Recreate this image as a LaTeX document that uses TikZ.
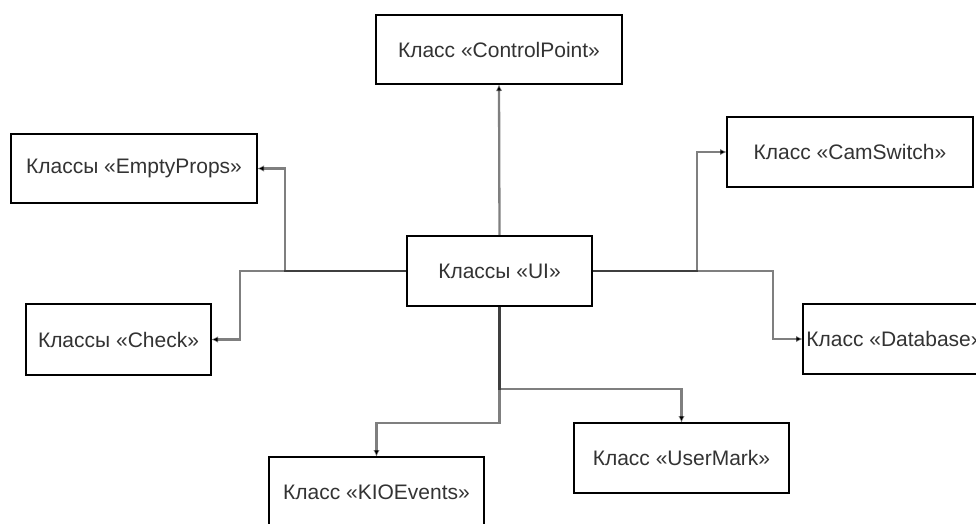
\documentclass[tikz,border=0pt]{standalone}
\usepackage{fontspec}
\setmainfont{Liberation Sans}
\usetikzlibrary{arrows.meta}
\begin{document}
\begin{tikzpicture}[x=1pt,y=-1pt,
  cls/.style={draw=black, line width=1.4pt, fill=white, inner sep=0pt, outer sep=0pt,
    text=black!80, font=\fontsize{21}{25}\selectfont, align=center},
  conn/.style={draw=black, draw opacity=0.5, line width=2.3pt,
    -{Latex[length=7pt,width=6.5pt]}}]
\useasboundingbox (0,0) rectangle (976,523);
% boxes
\node[cls, minimum width=246pt, minimum height=69pt] (cp) at (499,49.5) {Класс «ControlPoint»};
\node[cls, minimum width=246pt, minimum height=69pt] (ep) at (134,168.5) {Классы «EmptyProps»};
\node[cls, minimum width=246pt, minimum height=70pt] (cs) at (850,152) {Класс «CamSwitch»};
\node[cls, minimum width=185pt, minimum height=70pt] (ui) at (499.5,271) {Классы «UI»};
\node[cls, minimum width=185pt, minimum height=71pt] (ch) at (118.5,339.5) {Классы «Check»};
\node[cls, minimum width=183pt, minimum height=70pt] (db) at (894.5,339) {Класс «Database»};
\node[cls, minimum width=215pt, minimum height=70pt] (um) at (681.5,458) {Класс «UserMark»};
\node[cls, minimum width=215pt, minimum height=70pt] (kio) at (376.5,492) {Класс «KIOEvents»};
% junctions
\coordinate (jl) at (285,271);
\coordinate (jc) at (240,271);
\coordinate (jr) at (697,271);
\coordinate (jd) at (773,271);
\coordinate (jb) at (499.5,389);
\coordinate (jk) at (499.5,423);
% connectors
\draw[conn] (ui.north) -- (cp.south);
\draw[conn] (ui.west) -- (jl) |- (ep.east);
\draw[conn] (ui.west) -- (jc) |- (ch.east);
\draw[conn] (ui.east) -- (jr) |- (cs.west);
\draw[conn] (ui.east) -- (jd) |- (db.west);
\draw[conn] (ui.south) -- (jb) -| (um.north);
\draw[conn] (ui.south) -- (jk) -| (kio.north);
\end{tikzpicture}
\end{document}
